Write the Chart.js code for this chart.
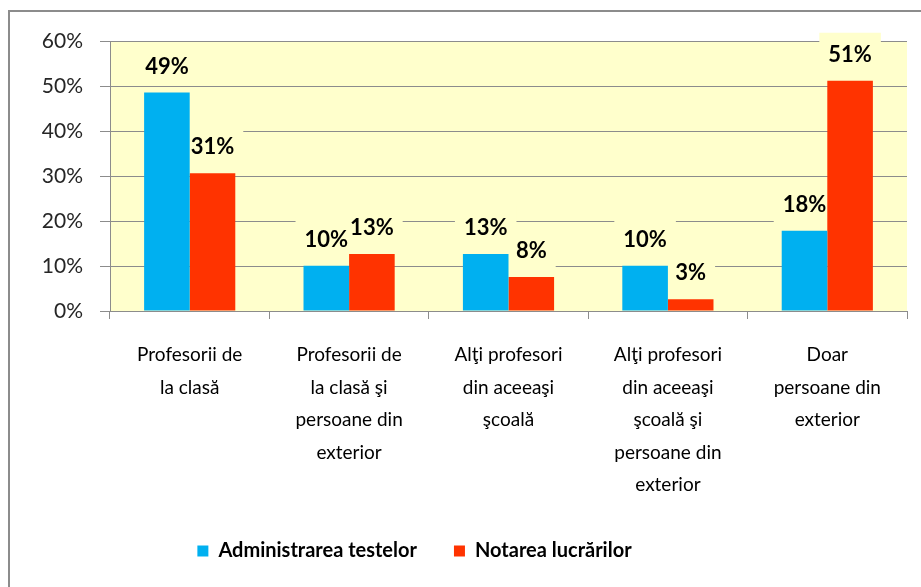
<!DOCTYPE html>
<html>
<head>
<meta charset="utf-8">
<script src="https://cdn.jsdelivr.net/npm/chart.js@4.4.1/dist/chart.umd.min.js"></script>
<style>
  html, body { margin: 0; padding: 0; background: #ffffff; }
  #wrap { width: 921px; height: 587px; }
</style>
</head>
<body>
<div id="wrap"><canvas id="c" width="921" height="587"></canvas></div>
<script>
const categories = [
  ["Profesorii de", "la clasă"],
  ["Profesorii de", "la clasă şi", "persoane din", "exterior"],
  ["Alţi profesori", "din aceeaşi", "şcoală"],
  ["Alţi profesori", "din aceeaşi", "şcoală şi", "persoane din", "exterior"],
  ["Doar", "persoane din", "exterior"]
];
const seriesNames = ["Administrarea testelor", "Notarea lucrărilor"];
const adminValues = [48.7, 10.1, 12.7, 10.1, 17.9];
const notareValues = [30.7, 12.7, 7.6, 2.6, 51.3];
const yMin = 0, yMax = 60, yStep = 10;

const PLOT_BG = '#FFFFCC';
const FONT = 'Lato, "Open Sans", sans-serif';

const framePlugin = {
  id: 'frame',
  beforeDraw(chart) {
    const ctx = chart.ctx, a = chart.chartArea;
    ctx.save();
    ctx.fillStyle = '#ffffff';
    ctx.fillRect(0, 0, chart.width, chart.height);
    ctx.strokeStyle = '#8c8c8c';
    ctx.lineWidth = 2;
    ctx.beginPath();
    ctx.moveTo(9, chart.height);
    ctx.lineTo(9, 11);
    ctx.lineTo(chart.width, 11);
    ctx.stroke();
    ctx.fillStyle = PLOT_BG;
    ctx.fillRect(a.left, a.top, a.right - a.left, a.bottom - a.top);
    ctx.restore();
  }
};

const legendPlace = {
  id: 'legendPlace',
  afterLayout(chart) {
    const lg = chart.legend;
    if (!lg) return;
    const pad = lg.options.labels.padding;
    const size = lg.options.labels.font.size;
    lg.left = 4;
    lg.right = 825;
    lg.width = 821;
    lg.top = 551 - pad - size / 2;
  }
};

function labelGeom(ctx, chart, di, i) {
  const ds = chart.data.datasets[di];
  const bar = chart.getDatasetMeta(di).data[i];
  const txt = Math.round(ds.data[i]) + '%';
  const w = ctx.measureText(txt).width;
  return { txt, w, cx: bar.x, cy: bar.y - 27 };
}

const valueLabels = {
  id: 'valueLabels',
  beforeDatasetsDraw(chart) {
    const ctx = chart.ctx;
    ctx.save();
    ctx.font = 'bold 22px ' + FONT;
    ctx.fillStyle = PLOT_BG;
    chart.data.datasets.forEach((ds, di) => {
      ds.data.forEach((v, i) => {
        const g = labelGeom(ctx, chart, di, i);
        ctx.fillRect(g.cx - g.w / 2 - 9, g.cy - 21, g.w + 18, 40);
      });
    });
    ctx.restore();
  },
  afterDatasetsDraw(chart) {
    const ctx = chart.ctx;
    ctx.save();
    ctx.font = 'bold 22px ' + FONT;
    ctx.textAlign = 'center';
    ctx.textBaseline = 'middle';
    ctx.fillStyle = '#000000';
    chart.data.datasets.forEach((ds, di) => {
      ds.data.forEach((v, i) => {
        const g = labelGeom(ctx, chart, di, i);
        ctx.fillText(g.txt, g.cx, g.cy + 1);
      });
    });
    ctx.restore();
  }
};

new Chart(document.getElementById('c'), {
  type: 'bar',
  data: {
    labels: categories,
    datasets: [
      { label: seriesNames[0], data: adminValues, backgroundColor: '#00B0F0', borderWidth: 0 },
      { label: seriesNames[1], data: notareValues, backgroundColor: '#FF3300', borderWidth: 0 }
    ]
  },
  options: {
    responsive: false,
    animation: false,
    devicePixelRatio: 1,
    layout: { padding: { left: 0, top: 41.7, right: 14, bottom: 0 } },
    datasets: { bar: { categoryPercentage: 0.572, barPercentage: 1.0 } },
    plugins: {
      tooltip: { enabled: false },
      legend: {
        position: 'bottom',
        labels: {
          boxWidth: 11,
          boxHeight: 11,
          padding: 37,
          color: '#000000',
          font: { family: FONT, size: 20, weight: 'bold' }
        }
      }
    },
    scales: {
      x: {
        grid: { drawOnChartArea: false, drawTicks: true, tickLength: 8, color: '#8c8c8c', offset: true },
        border: { display: true, color: '#8c8c8c', width: 1 },
        ticks: {
          color: '#000000',
          padding: 20,
          maxRotation: 0,
          autoSkip: false,
          font: { family: FONT, size: 19, lineHeight: 1.71 }
        },
        afterFit(scale) {
          const lh = scale.chart.legend ? scale.chart.legend.height : 0;
          scale.height = 587 - 311 - lh;
        }
      },
      y: {
        min: yMin, max: yMax,
        grid: { color: '#8c8c8c', tickLength: 10, drawTicks: true, borderDash: [5, 3] },
        border: { display: true, color: '#8c8c8c', width: 1 },
        ticks: {
          stepSize: yStep,
          color: '#262626',
          padding: 17,
          font: { family: FONT, size: 21 },
          callback: v => v + '%'
        },
        afterFit(scale) { scale.width = 110; }
      }
    }
  },
  plugins: [framePlugin, legendPlace, valueLabels]
});
</script>
</body>
</html>
